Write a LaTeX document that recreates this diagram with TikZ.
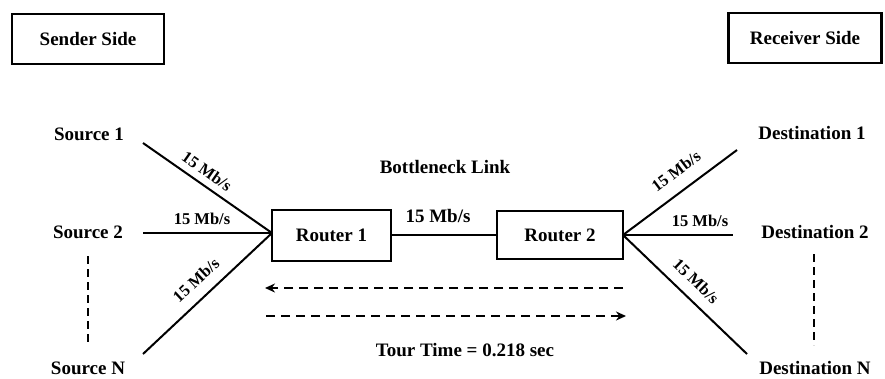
\documentclass[tikz,border=0pt]{standalone}
\usepackage{fontspec}
\setmainfont{Liberation Serif}
\usetikzlibrary{arrows.meta}
\begin{document}
\begin{tikzpicture}[x=1pt,y=-1pt,
  txt/.style={font=\fontsize{19}{22}\selectfont\bfseries, inner sep=0pt},
  rate/.style={font=\fontsize{16.5}{19}\selectfont\bfseries, inner sep=0pt},
  sidebox/.style={draw, line width=2.4pt, minimum width=152pt, minimum height=50pt, font=\fontsize{19}{22}\selectfont\bfseries},
  router/.style={draw, line width=2.2pt, font=\fontsize{19}{22}\selectfont\bfseries, inner sep=0pt},
  link/.style={line width=2pt},
  vdash/.style={line width=2.6pt, dash pattern=on 8pt off 5pt},
  hdash/.style={line width=2.4pt, dash pattern=on 9pt off 6pt, -{Stealth[length=10pt,width=9pt]}}
]
\useasboundingbox (0,0) rectangle (885,378);

% side boxes
\node[sidebox] (sender) at (88,39) {Sender Side};
\node[sidebox, minimum width=153pt] (receiver) at (805,38) {Receiver Side};

% routers
\node[router, minimum width=119pt, minimum height=51pt] (r1) at (331.5,235.5) {Router 1};
\node[router, minimum width=126pt, minimum height=48pt] (r2) at (560,235) {Router 2};

% sources
\node[txt] (s1) at (89,134) {Source 1};
\node[txt] (s2) at (88,232) {Source 2};
\node[txt] (sn) at (88,368) {Source N};
\coordinate (s1e) at (143,143);
\coordinate (s2e) at (143,233);
\coordinate (sne) at (143,354);
\coordinate (r1w) at (272,233);

% destinations
\node[txt] (d1) at (812,133) {Destination 1};
\node[txt] (d2) at (815,232) {Destination 2};
\node[txt] (dn) at (815,368) {Destination N};
\coordinate (d1e) at (737,150);
\coordinate (d2e) at (733,235);
\coordinate (dne) at (747,354);
\coordinate (r2e) at (623,235);

% links
\draw[link] (s1e) -- (r1w);
\draw[link] (s2e) -- (r1w);
\draw[link] (sne) -- (r1w);
\draw[link] (r1.east |- 0,235) -- (r2.west |- 0,235);
\draw[link] (r2e) -- (d1e);
\draw[link] (r2e) -- (d2e);
\draw[link] (r2e) -- (dne);

% dashed verticals
\coordinate (lv1) at (88,256); \coordinate (lv2) at (88,346);
\coordinate (rv1) at (814,254); \coordinate (rv2) at (814,345);
\draw[vdash] (lv1) -- (lv2);
\draw[vdash] (rv1) -- (rv2);

% dashed arrows
\coordinate (al1) at (623,288); \coordinate (al2) at (265,288);
\coordinate (ar1) at (266,316); \coordinate (ar2) at (626,316);
\draw[hdash] (al1) -- (al2);
\draw[hdash] (ar1) -- (ar2);

% labels
\node[txt] (bl) at (445,167) {Bottleneck Link};
\node[txt] (lk) at (438,216) {15 Mb/s};
\node[txt] (tt) at (465,350) {Tour Time = 0.218 sec};
\node[rate, rotate=-35] (l1) at (207,171) {15 Mb/s};
\node[rate] (l2) at (202,219) {15 Mb/s};
\node[rate, rotate=43] (l3) at (196,280) {15 Mb/s};
\node[rate, rotate=37] (l4) at (676,171) {15 Mb/s};
\node[rate] (l5) at (700,221) {15 Mb/s};
\node[rate, rotate=-44] (l6) at (696,281) {15 Mb/s};
\end{tikzpicture}
\end{document}
